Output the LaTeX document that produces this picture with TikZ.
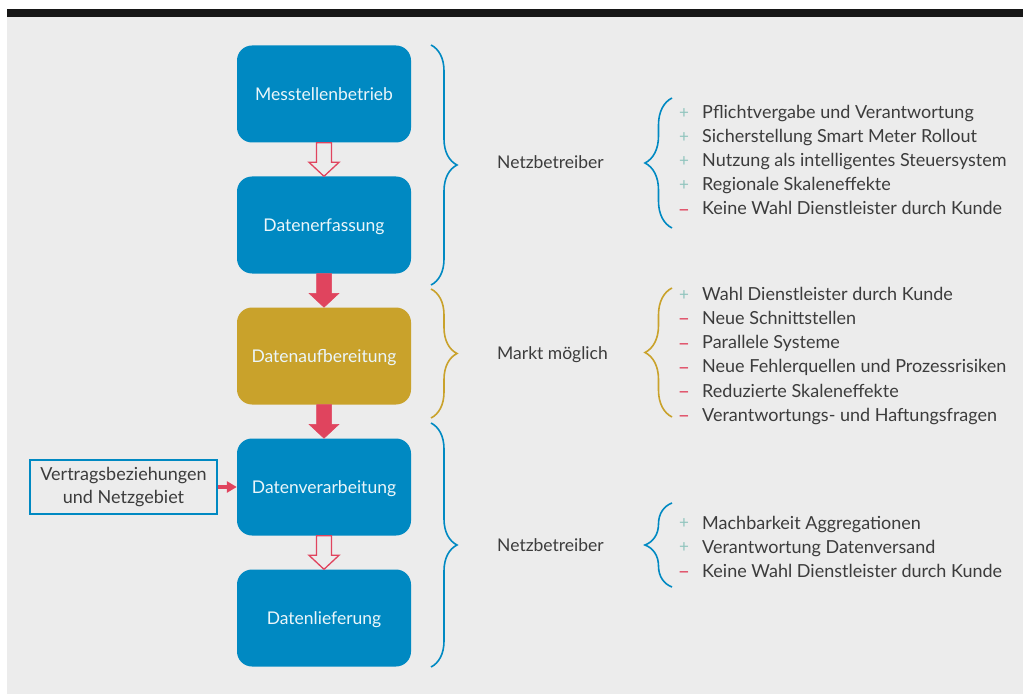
\documentclass[tikz,border=0pt]{standalone}
\usepackage{fontspec}
\setmainfont{Lato}
\usetikzlibrary{arrows.meta,decorations.pathreplacing,calc}
\definecolor{netzblue}{HTML}{0089C2}
\definecolor{marktgold}{HTML}{C9A22B}
\definecolor{flowred}{HTML}{E0445E}
\definecolor{plusgreen}{HTML}{8FC4BD}
\definecolor{paper}{HTML}{ECECEC}
\definecolor{ink}{HTML}{3C3C3C}
\newcommand{\flowarrow}[3]{\draw[#3] ($(#1.south)+(-7.5,0)$) |- ($(#2.north)+(-15,-14)$) -- (#2.north) -- ($(#2.north)+(15,-14)$) -| ($(#1.south)+(7.5,0)$) -- cycle;}
\begin{document}
\begin{tikzpicture}[x=1pt,y=-1pt,node distance=131pt,
    main node/.style={rectangle,rounded corners=15pt,fill=netzblue,minimum width=174pt,minimum height=97pt,text=white!92!netzblue,font=\fontsize{17.5}{21}\selectfont,text height=12.5pt,text depth=0pt},
    item/.style={anchor=base west,text=ink,font=\fontsize{18}{21}\selectfont,inner sep=0pt},
    sign/.style={inner sep=0pt},
    pro/.style={sign,text=plusgreen,font=\fontsize{17}{20}\selectfont,yshift=-1pt,node contents=+},
    con/.style={sign,text=flowred,font=\fontsize{21}{24}\selectfont,yshift=-4pt,node contents=--},
    brace/.style={decorate,decoration={brace,amplitude=#1},line width=1.6pt},
    hollow/.style={draw=flowred,fill=paper,line width=1.3pt},
    filled/.style={draw=flowred,fill=flowred,line width=0.5pt}]
  \useasboundingbox (0,0) rectangle (1023,695);
  \fill[paper] (7,17) rectangle (1023,694);
  \fill[black!91] (7,9) rectangle (1023,17);
  \node[main node] (1) at (324,94)   {Messtellenbetrieb};
  \node[main node] (2) [below of=1] {Datenerfassung};
  \node[main node,fill=marktgold] (3) [below of=2] {Datenaufbereitung};
  \node[main node] (4) [below of=3] {Datenverarbeitung};
  \node[main node] (5) [below of=4] {Datenlieferung};
  \node[draw=netzblue,line width=2pt,minimum width=187pt,minimum height=54pt,align=center,text=ink,font=\fontsize{18}{23}\selectfont] (6) at (123.5,487) {Vertragsbeziehungen\\und Netzgebiet};
  \flowarrow{1}{2}{hollow}
  \flowarrow{2}{3}{filled}
  \flowarrow{3}{4}{filled}
  \flowarrow{4}{5}{hollow}
  \draw[flowred,line width=3.5pt,-{Triangle[length=10pt,width=11pt]}] (6) -- (4);
  \draw[brace=26pt,netzblue] (431,45) -- (431,285);
  \draw[brace=26pt,marktgold] (431,289) -- (431,418);
  \draw[brace=26pt,netzblue] (431,423) -- (431,667);
  \node[item,font=\fontsize{17.5}{21}\selectfont] (n1) at (497,169) {Netzbetreiber};
  \node[item,font=\fontsize{17.5}{21}\selectfont] (n2) at (497,359) {Markt möglich};
  \node[item,font=\fontsize{17.5}{21}\selectfont] (n3) at (497,551) {Netzbetreiber};
  \draw[brace=27pt,netzblue] (672,228) -- (672,98);
  \draw[brace=27pt,marktgold] (672,417) -- (672,288);
  \draw[brace=27pt,netzblue] (672,587) -- (672,503);
  \foreach \k/\t [count=\i] in {pro/Pflichtvergabe und Verantwortung,pro/Sicherstellung Smart Meter Rollout,pro/Nutzung als intelligentes Steuersystem,pro/Regionale Skaleneffekte,con/Keine Wahl Dienstleister durch Kunde}
    {\node (a\i) at (684,89+24*\i) [\k]; \node[item] (ta\i) at (702,95+24*\i) {\t};}
  \foreach \k/\t [count=\i] in {pro/Wahl Dienstleister durch Kunde,con/Neue Schnittstellen,con/Parallele Systeme,con/Neue Fehlerquellen und Prozessrisiken,con/Reduzierte Skaleneffekte,con/Verantwortungs- und Haftungsfragen}
    {\node (b\i) at (684,270+24.2*\i) [\k]; \node[item] (tb\i) at (702,276+24.2*\i) {\t};}
  \foreach \k/\t [count=\i] in {pro/Machbarkeit Aggregationen,pro/Verantwortung Datenversand,con/Keine Wahl Dienstleister durch Kunde}
    {\node (c\i) at (684,499+24*\i) [\k]; \node[item] (tc\i) at (702,505+24*\i) {\t};}
\end{tikzpicture}
\end{document}
